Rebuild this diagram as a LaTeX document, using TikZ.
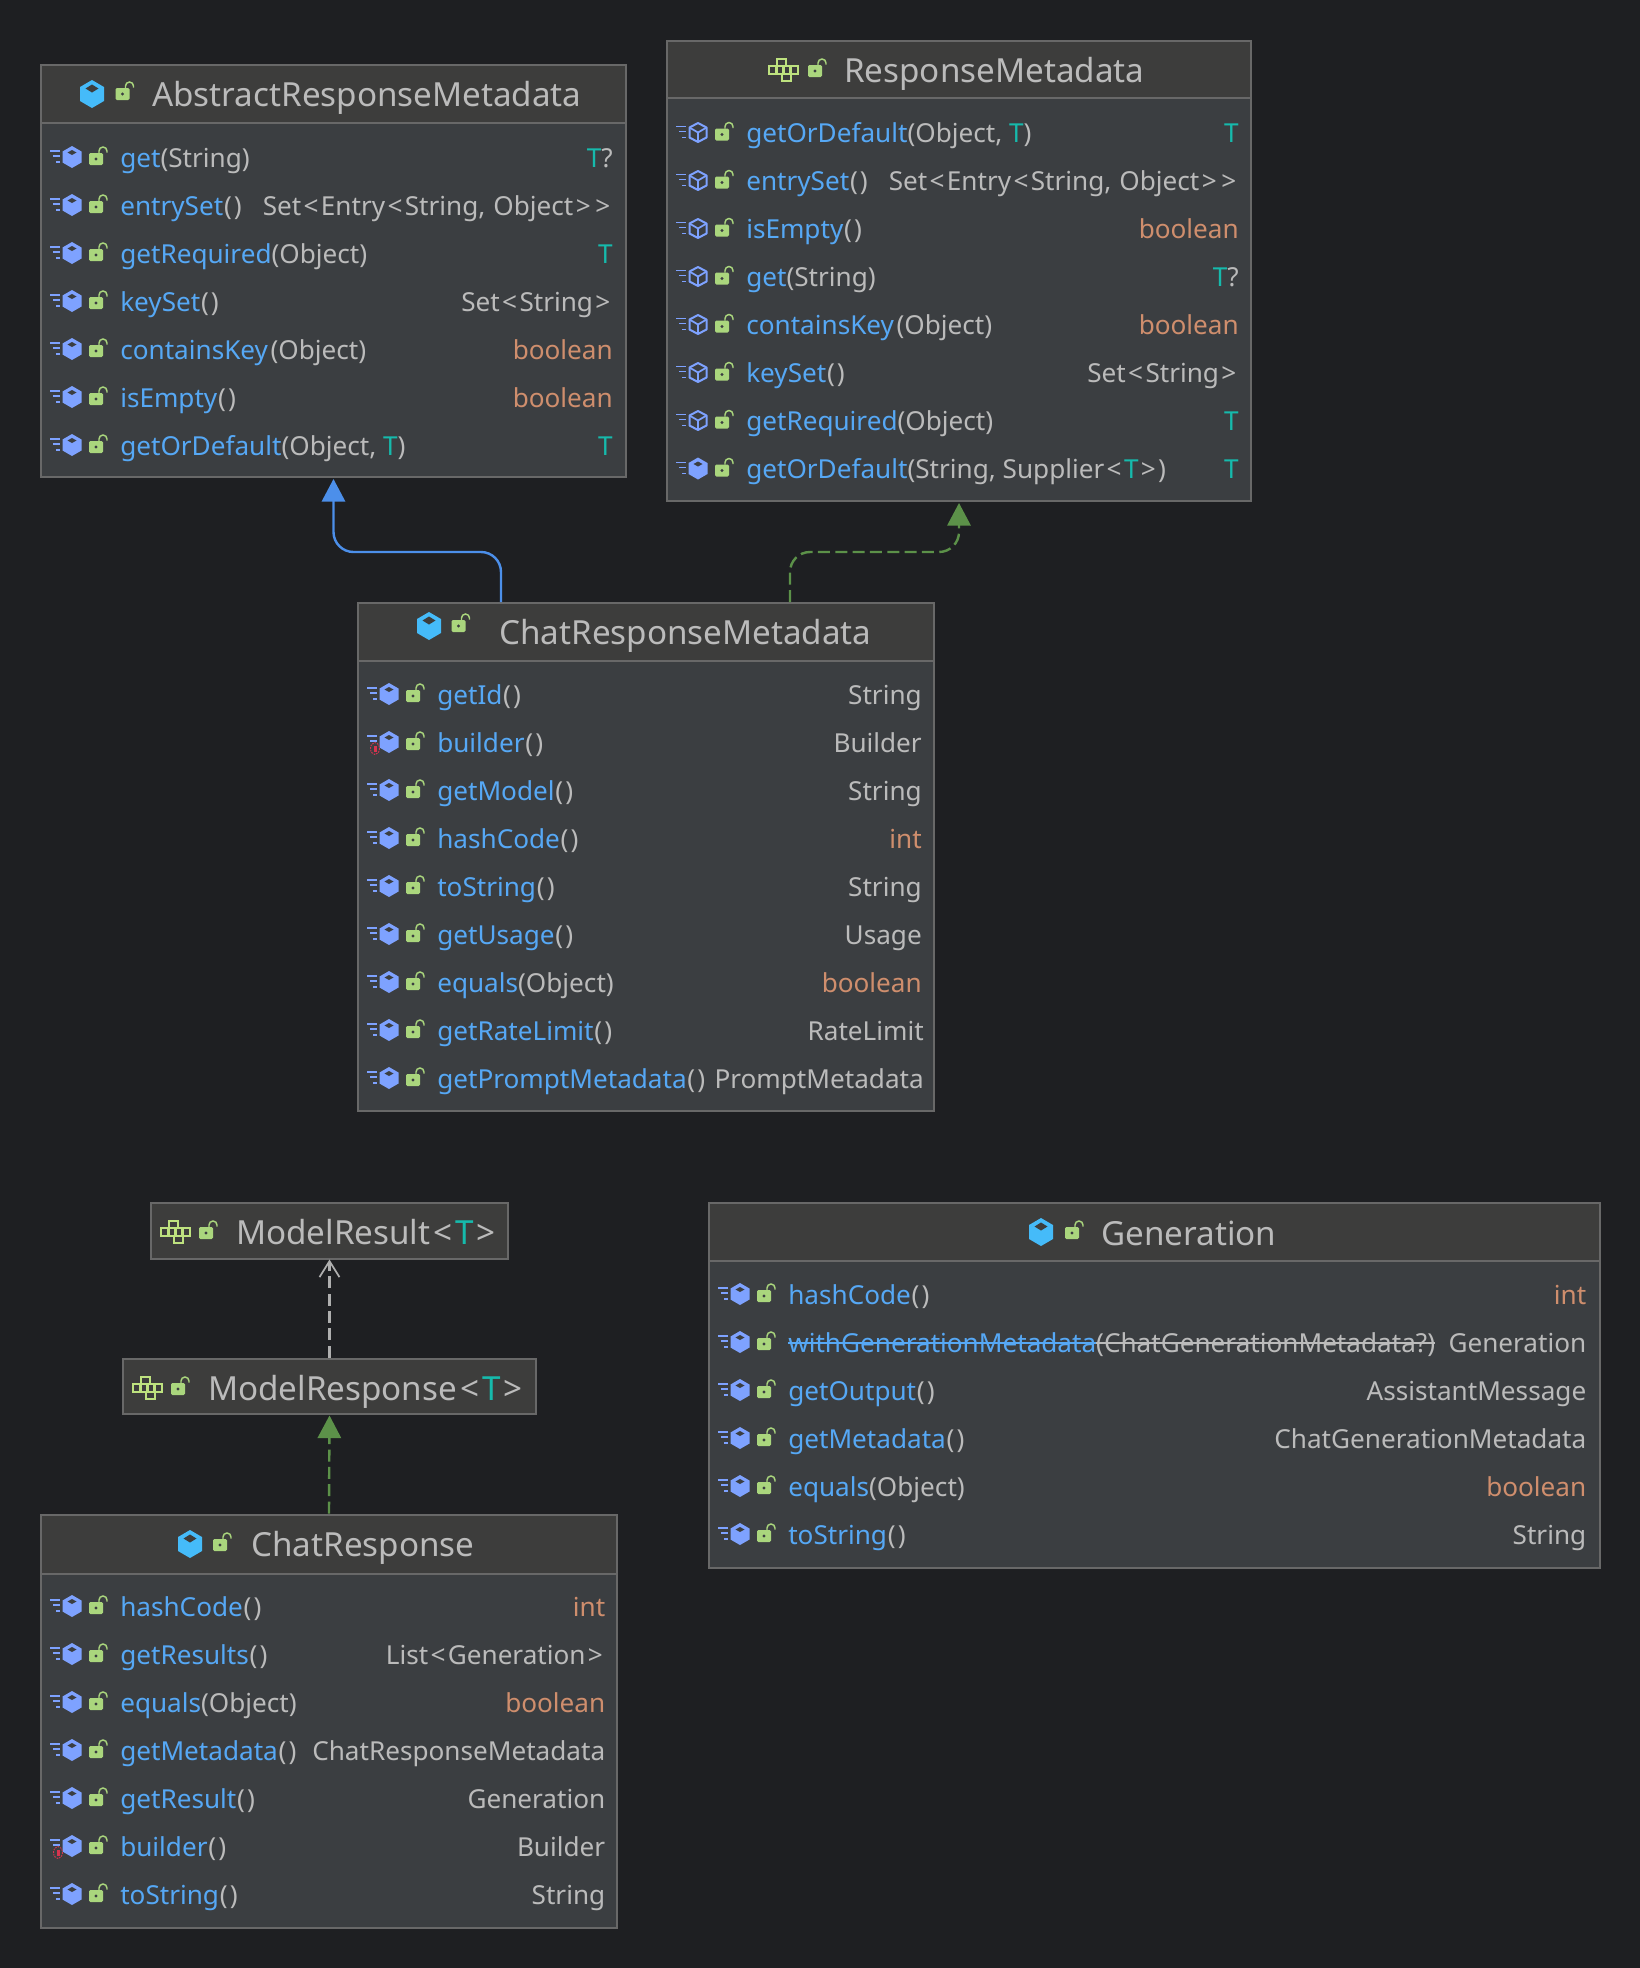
\documentclass[tikz,border=0pt]{standalone}
\usepackage{fontspec}
\setmainfont{Noto Sans}
\usetikzlibrary{calc,arrows.meta}
\definecolor{bgc}{HTML}{1E1F22}
\definecolor{bodyc}{HTML}{3B3E41}
\definecolor{headc}{HTML}{3D3D3C}
\definecolor{edgec}{HTML}{686868}
\definecolor{txtc}{HTML}{BBBBBB}
\definecolor{mblue}{HTML}{56A8F5}
\definecolor{torange}{HTML}{CF8E6D}
\definecolor{tteal}{HTML}{16BAAC}
\definecolor{hexc}{HTML}{45BBF9}
\definecolor{meth}{HTML}{7EA2FF}
\definecolor{lockc}{HTML}{AAD67D}
\definecolor{puzc}{HTML}{BEE27F}
\definecolor{arrblue}{HTML}{4C8FEA}
\definecolor{arrgreen}{HTML}{5C9149}
\definecolor{arrgrey}{HTML}{AFAFAF}
\definecolor{redc}{HTML}{D8344F}
\tikzset{
 x=0.75pt,y=-0.75pt,
 umlbody/.style={draw=edgec,fill=bodyc,line width=1.5pt,inner sep=0pt,outer sep=0pt},
 headline/.style={draw=edgec,line width=1.5pt},
 titletext/.style={anchor=base west,inner sep=0pt,text=txtc,font=\fontsize{24.9}{28}\selectfont},
 rowtext/.style={anchor=base west,inner sep=0pt,text=txtc,font=\fontsize{19.6}{24}\selectfont},
 rettext/.style={anchor=base east,inner sep=0pt,text=txtc,font=\fontsize{19.6}{24}\selectfont},
 extends/.style={arrblue,line width=1.8pt,rounded corners=15pt,-{Triangle[length=17pt,width=17.5pt,fill=arrblue]}},
 realizes/.style={arrgreen,line width=1.8pt,rounded corners=15pt,dash pattern=on 9pt off 4pt,-{Triangle[length=17pt,width=17.5pt,fill=arrgreen]}},
 uses/.style={arrgrey,line width=1.8pt,dash pattern=on 9pt off 4pt,-{Straight Barb[length=12pt,width=15pt,line width=1.3pt]}},
}
\newcommand{\tvar}{\textcolor{tteal}{T}}
\newcommand{\mn}[1]{\textcolor{mblue}{#1}}
\newcommand{\tyo}[1]{\textcolor{torange}{#1}}
\newcommand{\ltx}{\kern.09em<\kern.09em}
\newcommand{\gtx}{\kern.09em>\kern.09em}
\newcommand{\emp}{\kern.03em(\kern.08em)}
\newcommand{\strk}[1]{\setbox0\hbox{#1}\rlap{\raisebox{.3em}{\rule{\wd0}{.075em}}}\box0}
% icons
\newcommand{\lockicon}[2]{\begin{scope}[shift={(#1,#2)}]
 \draw[lockc,line width=1.1pt] (3,-5) -- (3,-7) arc[start angle=180,end angle=360,radius=4] -- (11,-5.5);
 \fill[lockc,rounded corners=1pt] (-7,-5) rectangle (7,7);
 \fill[bodyc] (0,1) circle (1.6);
\end{scope}}
\newcommand{\classicon}[2]{\begin{scope}[shift={(#1,#2)}]
 \fill[hexc] (0,-14) -- (12,-7) -- (12,7) -- (0,14) -- (-12,7) -- (-12,-7) -- cycle;
 \fill[headc] (0,-9.5) -- (6.5,-5.5) -- (0,-1.5) -- (-6.5,-5.5) -- cycle;
\end{scope}}
\newcommand{\methlines}{%
 \draw[meth,line width=1.3pt] (-22,-6) -- (-12,-6) (-19,-1) -- (-12,-1) (-16,5) -- (-12,5);}
\newcommand{\methicon}[2]{\begin{scope}[shift={(#1,#2)}]
 \methlines
 \fill[meth] (0,-11) -- (9.5,-5.5) -- (9.5,5.5) -- (0,11) -- (-9.5,5.5) -- (-9.5,-5.5) -- cycle;
 \fill[bodyc] (0,-7) -- (4.5,-4.5) -- (0,-2) -- (-4.5,-4.5) -- cycle;
\end{scope}}
\newcommand{\absicon}[2]{\begin{scope}[shift={(#1,#2)}]
 \methlines
 \draw[meth,line width=1.5pt,line join=round] (0,-9.5) -- (8.5,-5) -- (8.5,5) -- (0,9.5) -- (-8.5,5) -- (-8.5,-5) -- cycle;
 \draw[meth,line width=1.3pt] (-8.5,-5) -- (0,0) -- (8.5,-5) (0,0) -- (0,9.5);
\end{scope}}
\newcommand{\staticicon}[2]{\methicon{#1}{#2}\begin{scope}[shift={(#1,#2)}]
 \fill[bodyc] (-18.5,1) rectangle (-10,12.5);
 \draw[redc,line width=0.7pt,dash pattern=on 1.2pt off 0.8pt] (-14,6.5) ellipse (4.5 and 6);
 \fill[redc] (-15.5,3.5) rectangle (-12.5,9.5);
\end{scope}}
\newcommand{\puzicon}[2]{\begin{scope}[shift={(#1,#2)}]
 \draw[puzc,line width=1.6pt] (-7,-11) rectangle (2,-4)
  (-15,-4) rectangle (14,4) (-7.5,-4) -- (-7.5,4) (-0.5,-4) -- (-0.5,4) (6.5,-4) -- (6.5,4)
  (-2,4) rectangle (7,11);
\end{scope}}
% box: name, x, y, w, h, header height
\newcommand{\umlbox}[6]{%
 \node[umlbody,anchor=north west,minimum width=#4*0.75pt,minimum height=#5*0.75pt] (#1) at (#2,#3) {};
 \fill[headc] ($(#1.north west)+(1,1)$) rectangle ($(#1.north west)+(#4-1,#6)$);
 \draw[headline] ($(#1.north west)+(0,#6)$) -- ($(#1.north west)+(#4,#6)$);}
% rows
\newcounter{rowno}
\newcommand{\rowstart}[3]{\xdef\rowL{#1}\xdef\rowR{#2}\xdef\rowY{#3}}
\newcommand{\mrow}[3]{% icon command, left text, right text
 \stepcounter{rowno}%
 \pgfmathsetmacro{\hx}{\rowL+31}\pgfmathsetmacro{\lx}{\rowL+55}\pgfmathsetmacro{\tx}{\rowL+79}\pgfmathsetmacro{\by}{\rowY+10}%
 #1{\hx}{\rowY}\lockicon{\lx}{\rowY+1}
 \node[rowtext] (rowl\therowno) at (\tx,\by) {#2};
 \node[rettext] (rowr\therowno) at (\rowR,\by) {#3};
 \pgfmathsetmacro{\ny}{\rowY+48}\xdef\rowY{\ny}}
\begin{document}
\begin{tikzpicture}
\useasboundingbox (0,0) rectangle (1640,1968);
\fill[bgc] (0,0) rectangle (1640,1968);

% AbstractResponseMetadata
\umlbox{arm}{41}{65}{585}{412}{58}
\classicon{92}{94}\lockicon{122.5}{93}
\node[titletext] (armt) at (152,106) {AbstractResponseMetadata};
\rowstart{41}{613}{157}
\mrow{\methicon}{\mn{get}(String)}{\tvar ?}
\mrow{\methicon}{\mn{entrySet}\emp}{Set\ltx Entry\ltx String,\kern.05em{} Object\gtx\gtx}
\mrow{\methicon}{\mn{getRequired}(Object)}{\tvar}
\mrow{\methicon}{\mn{keySet}\emp}{Set\ltx String\gtx}
\mrow{\methicon}{\mn{containsKey}\kern.1em(Object)}{\tyo{boolean}}
\mrow{\methicon}{\mn{isEmpty}\emp}{\tyo{boolean}}
\mrow{\methicon}{\mn{getOrDefault}(Object, \tvar)}{\tvar}

% ResponseMetadata
\umlbox{rm}{667}{41}{584}{460}{57}
\puzicon{784}{70}\lockicon{815}{70}
\node[titletext] (rmt) at (844,82) {ResponseMetadata};
\rowstart{667}{1239}{132.5}
\mrow{\absicon}{\mn{getOrDefault}(Object, \tvar)}{\tvar}
\mrow{\absicon}{\mn{entrySet}\emp}{Set\ltx Entry\ltx String,\kern.05em{} Object\gtx\gtx}
\mrow{\absicon}{\mn{isEmpty}\emp}{\tyo{boolean}}
\mrow{\absicon}{\mn{get}(String)}{\tvar ?}
\mrow{\absicon}{\mn{containsKey}\kern.1em(Object)}{\tyo{boolean}}
\mrow{\absicon}{\mn{keySet}\emp}{Set\ltx String\gtx}
\mrow{\absicon}{\mn{getRequired}(Object)}{\tvar}
\mrow{\methicon}{\mn{getOrDefault}(String, Supplier\ltx\tvar\gtx)}{\tvar}

% ChatResponseMetadata
\umlbox{crm}{358}{603}{576}{508}{58}
\classicon{429}{626}\lockicon{458.5}{625}
\node[titletext] (crmt) at (499,644) {ChatResponseMetadata};
\rowstart{358}{922}{694}
\mrow{\methicon}{\mn{getId}\emp}{String}
\mrow{\staticicon}{\mn{builder}\emp}{Builder}
\mrow{\methicon}{\mn{getModel}\emp}{String}
\mrow{\methicon}{\mn{hashCode}\emp}{\tyo{int}}
\mrow{\methicon}{\mn{toString}\emp}{String}
\mrow{\methicon}{\mn{getUsage}\emp}{Usage}
\mrow{\methicon}{\mn{equals}(Object)}{\tyo{boolean}}
\xdef\rowR{924}
\mrow{\methicon}{\mn{getRateLimit}\emp}{RateLimit}
\mrow{\methicon}{\mn{getPromptMetadata}\emp}{PromptMetadata}

% ModelResult
\umlbox{mres}{150.5}{1202.5}{357}{56}{56}
\puzicon{176}{1232}\lockicon{206}{1232}
\node[titletext] (mrest) at (236,1244) {ModelResult\ltx\tvar\gtx};

% ModelResponse
\umlbox{mrsp}{122.5}{1358.5}{413}{55}{55}
\puzicon{148}{1388}\lockicon{178}{1388}
\node[titletext] (mrspt) at (208,1400) {ModelResponse\ltx\tvar\gtx};

% ChatResponse
\umlbox{cr}{41}{1514.5}{576}{413}{59}
\classicon{190}{1544}\lockicon{220}{1544}
\node[titletext] (crt) at (251,1556) {ChatResponse};
\rowstart{41}{605.5}{1606}
\mrow{\methicon}{\mn{hashCode}\emp}{\tyo{int}}
\mrow{\methicon}{\mn{getResults}\emp}{List\ltx Generation\gtx}
\mrow{\methicon}{\mn{equals}(Object)}{\tyo{boolean}}
\mrow{\methicon}{\mn{getMetadata}\emp}{ChatResponseMetadata}
\mrow{\methicon}{\mn{getResult}\emp}{Generation}
\mrow{\staticicon}{\mn{builder}\emp}{Builder}
\mrow{\methicon}{\mn{toString}\emp}{String}

% Generation
\umlbox{gen}{709}{1202.5}{891}{365}{58}
\classicon{1041}{1232}\lockicon{1072}{1232}
\node[titletext] (gent) at (1101,1245) {Generation};
\rowstart{709}{1586.5}{1294}
\mrow{\methicon}{\mn{hashCode}\emp}{\tyo{int}}
\mrow{\methicon}{\mn{\strk{withGenerationMetadata}}\strk{(ChatGenerationMetadata?)}}{Generation}
\mrow{\methicon}{\mn{getOutput}\emp}{AssistantMessage}
\mrow{\methicon}{\mn{getMetadata}\emp}{ChatGenerationMetadata}
\mrow{\methicon}{\mn{equals}(Object)}{\tyo{boolean}}
\mrow{\methicon}{\mn{toString}\emp}{String}

% connectors
\coordinate (c1s) at ($(crm.north west)+(143,-1)$);
\coordinate (c1e) at ($(arm.south west)+(292.5,2)$);
\draw[extends] (c1s) -- ++(0,-50) -| (c1e);
\coordinate (c2s) at ($(crm.north west)+(432,-1)$);
\coordinate (c2e) at ($(rm.south west)+(292,2)$);
\draw[realizes] (c2s) -- ++(0,-50) -| (c2e);
\coordinate (c3s) at ($(mrsp.north west)+(207,-1)$);
\coordinate (c3e) at ($(mres.south west)+(179,1)$);
\draw[uses] (c3s) -- (c3e);
\coordinate (c4s) at ($(cr.north west)+(288,-1)$);
\coordinate (c4e) at ($(mrsp.south west)+(207,2)$);
\draw[realizes] (c4s) -- (c4e);
\end{tikzpicture}
\end{document}
